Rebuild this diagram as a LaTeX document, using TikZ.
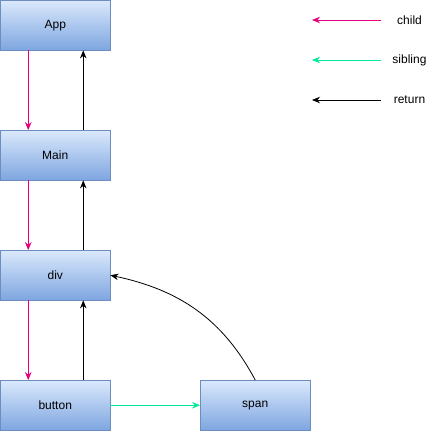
\documentclass[tikz,border=0pt]{standalone}
\usepackage{fontspec}
\setmainfont{Liberation Sans}
\usetikzlibrary{arrows.meta}
\definecolor{fondHaut}{RGB}{218,232,252}
\definecolor{fondBas}{RGB}{126,166,224}
\definecolor{bord}{RGB}{108,142,191}
\definecolor{rose}{RGB}{230,0,126}
\definecolor{vert}{RGB}{0,235,150}
\begin{document}
\begin{tikzpicture}[x=1pt,y=-1pt]
		% Styles
		\tikzstyle{fleche}=[->,>={Stealth[length=8pt,width=6.5pt]},line width=0.8pt]
		\tikzstyle{enfant}=[fleche,rose]
		\tikzstyle{frere}=[fleche,vert]
		\tikzstyle{retour}=[fleche,black]
		\tikzstyle{boite}=[draw=bord,line width=0.8pt,top color=fondHaut,bottom color=fondBas,
			minimum width=109.5pt,minimum height=49.5pt,inner sep=0pt,font=\fontsize{12}{14}\selectfont]
		\tikzstyle{legende}=[font=\fontsize{12}{14}\selectfont]
		% Dimensions
		\def\ColonneA{55.25}
		\def\ColonneB{255.25}
		\def\DecalageEnfant{-27}
		\def\DecalageRetour{28}
		\useasboundingbox (0,0) rectangle (431,431);
		% Noeuds
		\node[boite] (App) at (\ColonneA,25.25) {App};
		\node[boite] (Main) at (\ColonneA,155.25) {Main};
		\node[boite] (div) at (\ColonneA,275.25) {div};
		\node[boite] (button) at (\ColonneA,405.25) {button};
		\node[boite] (span) at (\ColonneB,405.25) {span};
		%
		\node[legende] (child) at (409.5,20) {child};
		\node[legende] (sibling) at (409.5,60) {sibling};
		\node[legende] (return) at (409.5,100) {return};
		\coordinate (childA) at (381,20);
		\coordinate (childB) at (312,20);
		\coordinate (siblingA) at (381,60);
		\coordinate (siblingB) at (312,60);
		\coordinate (returnA) at (381,100);
		\coordinate (returnB) at (312,100);
		% Arcs
		\draw[enfant] ([xshift=\DecalageEnfant]App.south)--([xshift=\DecalageEnfant]Main.north);
		\draw[enfant] ([xshift=\DecalageEnfant]Main.south)--([xshift=\DecalageEnfant]div.north);
		\draw[enfant] ([xshift=\DecalageEnfant]div.south)--([xshift=\DecalageEnfant]button.north);
		\draw[retour] ([xshift=\DecalageRetour]Main.north)--([xshift=\DecalageRetour]App.south);
		\draw[retour] ([xshift=\DecalageRetour]div.north)--([xshift=\DecalageRetour]Main.south);
		\draw[retour] ([xshift=\DecalageRetour]button.north)--([xshift=\DecalageRetour]div.south);
		\draw[frere] (button.east)--(span.west);
		\draw[retour] (span.north) to[out=118,in=-12] (div.east);
		%
		\draw[enfant] (childA)--(childB);
		\draw[frere] (siblingA)--(siblingB);
		\draw[retour] (returnA)--(returnB);
	\end{tikzpicture}
\end{document}
